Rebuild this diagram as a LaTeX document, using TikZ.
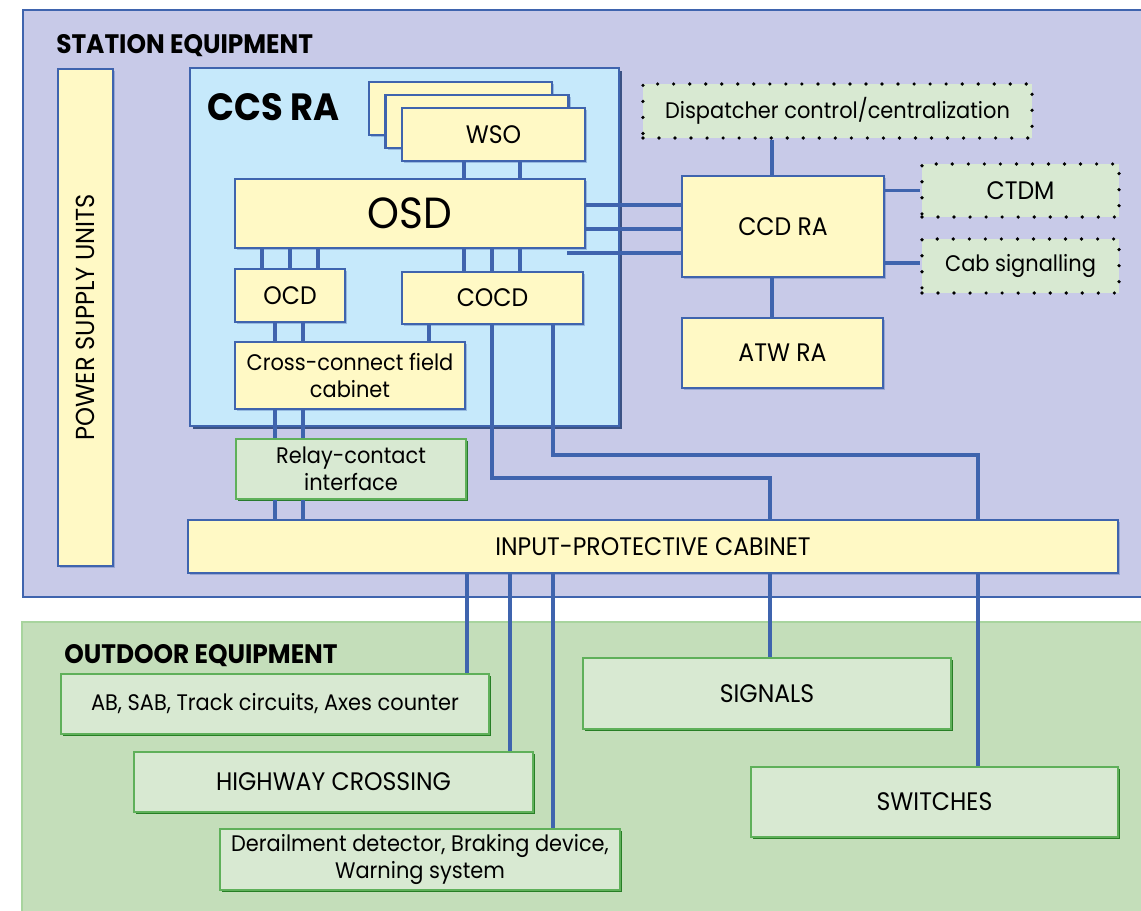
\documentclass[tikz,border=0pt]{standalone}
\usepackage{fontspec}
\setmainfont{Poppins}[FakeStretch=0.93]
\usetikzlibrary{shadows}
\definecolor{stationbg}{HTML}{C8CAE8}
\definecolor{outdoorbg}{HTML}{C4DEBA}
\definecolor{outdoorline}{HTML}{A8D49E}
\definecolor{linkblue}{HTML}{3F64AE}
\definecolor{boxyellow}{HTML}{FFF9C5}
\definecolor{ccsblue}{HTML}{C6E9FB}
\definecolor{boxgreen}{HTML}{D8E9D2}
\definecolor{greenedge}{HTML}{5FB05A}

\begin{document}
\begin{tikzpicture}[x=0.025cm, y=-0.025cm,
		font=\fontsize{16}{19}\selectfont,
		capstext/.style={font=\fontsize{18}{21}\selectfont},
		yellowbox/.style={rectangle, draw=linkblue, line width=1.8pt, fill=boxyellow, inner sep=0pt,
			drop shadow={shadow xshift=1.5pt, shadow yshift=-1.5pt, fill=linkblue, opacity=0.35}},
		greenbox/.style={rectangle, draw=greenedge, line width=1.6pt, fill=boxgreen, inner sep=0pt,
			drop shadow={shadow xshift=1.2pt, shadow yshift=-1.2pt, fill=green!40!black, opacity=0.8}},
		dotbox/.style={rectangle, fill=boxgreen, draw=black, line width=2.6pt, line cap=round,
			dash pattern=on 0pt off 11.4pt, inner sep=0pt},
		link/.style={draw=linkblue, line width=2.8pt}]
		\useasboundingbox (0,0) rectangle (1141,910);
		\clip (0,0) rectangle (1141,910);
		
		% panels
		\draw[draw=linkblue, line width=1.4pt, fill=stationbg] (23,10) rectangle (1170,597);
		\draw[draw=outdoorline, line width=1.4pt, fill=outdoorbg] (22,622) rectangle (1170,940);
		\node[anchor=west, inner sep=0pt, font=\fontsize{19}{22}\bfseries\selectfont] (stationlabel) at (56,46) {STATION EQUIPMENT};
		\node[anchor=west, inner sep=0pt, font=\fontsize{19}{22}\bfseries\selectfont] (outdoorlabel) at (64,656) {OUTDOOR EQUIPMENT};
		
		% station equipment
		\node[yellowbox, minimum width=1.375cm, minimum height=12.425cm] (psu) at (85.5,317.5) {};
		\node[rotate=90, font=\fontsize{18.5}{21}\selectfont] (psutext) at (psu) {POWER SUPPLY UNITS};
		
		\node[rectangle, draw=linkblue, line width=1.8pt, fill=ccsblue, minimum width=10.725cm, minimum height=8.95cm,
			drop shadow={shadow xshift=2pt, shadow yshift=-2pt, fill=linkblue!70!black, opacity=0.9}] (ccs) at (404.5,247) {};
		\node[anchor=west, inner sep=0pt, font=\fontsize{27}{32}\bfseries\selectfont] (ccslabel) at (207,107) {CCS RA};
		
		\node[yellowbox, minimum width=4.575cm, minimum height=1.325cm] (wsoc) at (460.5,108.5) {};
		\node[yellowbox, minimum width=4.575cm, minimum height=1.325cm] (wsob) at (477,121.5) {};
		\node[yellowbox, capstext, minimum width=4.575cm, minimum height=1.325cm] (wso) at (493.5,134.5) {WSO};
		\node[yellowbox, minimum width=8.75cm, minimum height=1.725cm, font=\fontsize{31}{36}\selectfont] (osd) at (410,213.5) {OSD};
		\node[yellowbox, capstext, minimum width=2.75cm, minimum height=1.325cm] (ocd) at (290,295.5) {OCD};
		\node[yellowbox, capstext, minimum width=4.525cm, minimum height=1.3cm] (cocd) at (492.5,298) {COCD};
		\node[yellowbox, minimum width=5.75cm, minimum height=1.675cm, align=center] (xfield) at (350,375.5) {Cross-connect field\\cabinet};
		\node[greenbox, minimum width=5.75cm, minimum height=1.5cm, align=center] (relay) at (351,469) {Relay-contact\\interface};
		\node[yellowbox, capstext, minimum width=23.25cm, minimum height=1.325cm] (ipc) at (653,546.5) {INPUT-PROTECTIVE CABINET};
		
		\node[dotbox, minimum width=9.725cm, minimum height=1.35cm] (disp) at (837.5,111) {Dispatcher control/centralization};
		\node[yellowbox, capstext, minimum width=5.05cm, minimum height=2.525cm] (ccd) at (783,226.5) {CCD RA};
		\node[dotbox, capstext, minimum width=4.925cm, minimum height=1.325cm] (ctdm) at (1020.5,190.5) {CTDM};
		\node[dotbox, minimum width=4.925cm, minimum height=1.35cm] (cab) at (1020.5,266) {Cab signalling};
		\node[yellowbox, capstext, minimum width=5.025cm, minimum height=1.75cm] (atw) at (782.5,353) {ATW RA};
		
		% outdoor equipment
		\node[greenbox, minimum width=10.7cm, minimum height=1.5cm] (ab) at (275,704) {AB, SAB, Track circuits, Axes counter};
		\node[greenbox, capstext, minimum width=9.975cm, minimum height=1.5cm] (hwy) at (333.5,782) {HIGHWAY CROSSING};
		\node[greenbox, minimum width=10cm, minimum height=1.525cm, align=center] (derail) at (420,859.5) {Derailment detector, Braking device,\\Warning system};
		\node[greenbox, capstext, minimum width=9.2cm, minimum height=1.775cm] (signals) at (767,693.5) {SIGNALS};
		\node[greenbox, capstext, minimum width=9.175cm, minimum height=1.75cm] (switches) at (934.5,802) {SWITCHES};
		
		% links inside CCS RA
		\foreach \x in {464,520}
			\draw[link] (wso.south -| \x,0) -- (osd.north -| \x,0);
		\foreach \x in {262,290,318}
			\draw[link] (osd.south -| \x,0) -- (ocd.north -| \x,0);
		\foreach \x in {464,492,520}
			\draw[link] (osd.south -| \x,0) -- (cocd.north -| \x,0);
		\foreach \x in {275,303} {
			\draw[link] (ocd.south -| \x,0) -- (xfield.north -| \x,0);
			\draw[link] (xfield.south -| \x,0) -- (relay.north -| \x,0);
			\draw[link] (relay.south -| \x,0) -- (ipc.north -| \x,0);
		}
		\draw[link] (cocd.south -| 429,0) -- (xfield.north -| 429,0);
		
		% links to CCD RA
		\coordinate (osdtap) at (567,253);
		\foreach \y in {205,229}
			\draw[link] (osd.east |- 0,\y) -- (ccd.west |- 0,\y);
		\draw[link] (osdtap) -- (ccd.west |- osdtap);
		\draw[link] (disp.south -| 772,0) -- (ccd.north -| 772,0);
		\draw[link] (ccd.south -| 772,0) -- (atw.north -| 772,0);
		\draw[link] (ccd.east |- ctdm.west) -- (ctdm.west);
		\draw[link] (ccd.east |- 0,263) -- (cab.west |- 0,263);
		
		% cables to the field
		\draw[link] (cocd.south -| 492,0) |- (770,478) -- (ipc.north -| 770,0);
		\draw[link] (cocd.south -| 553,0) |- (978,455) -- (ipc.north -| 978,0);
		\draw[link] (ipc.south -| 467,0) -- (ab.north -| 467,0);
		\draw[link] (ipc.south -| 510,0) -- (hwy.north -| 510,0);
		\draw[link] (ipc.south -| 553,0) -- (derail.north -| 553,0);
		\draw[link] (ipc.south -| 770,0) -- (signals.north -| 770,0);
		\draw[link] (ipc.south -| 978,0) -- (switches.north -| 978,0);
	\end{tikzpicture}
\end{document}
